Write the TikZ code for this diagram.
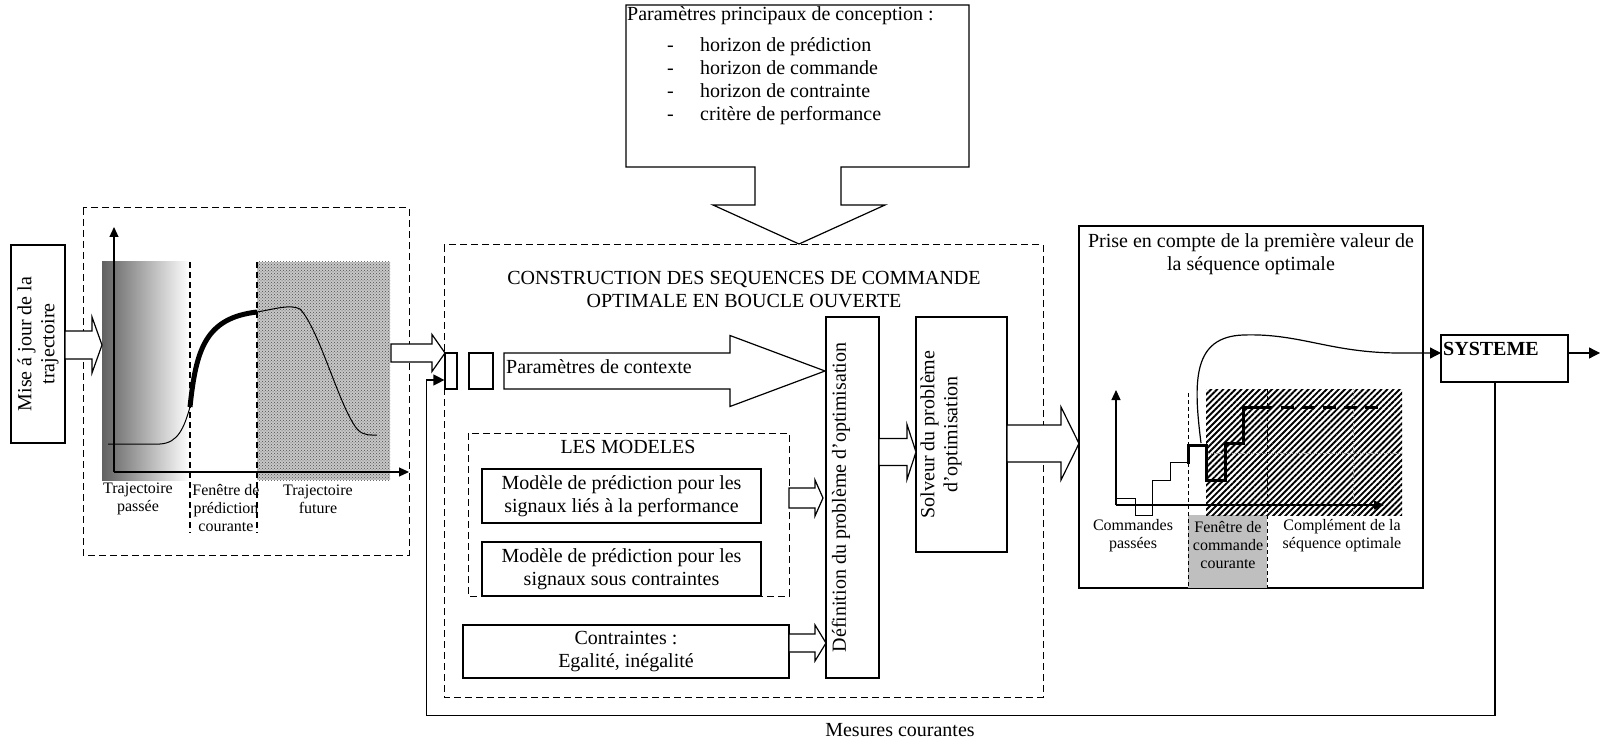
\documentclass[tikz,border=0pt]{standalone}
\usepackage{fontspec}
\setmainfont{Liberation Serif}
\usetikzlibrary{arrows.meta,patterns,patterns.meta}
\newcommand\blockarrow[6]{%
  \draw[blk] (#1,#4-#5) -- (#2,#4-#5) -- (#2,#4-#6) -- (#3,#4) -- (#2,#4+#6) -- (#2,#4+#5) -- (#1,#4+#5) -- cycle;}
\begin{document}
\begin{tikzpicture}[x=1pt,y=-1pt,
    every node/.style={font=\fontsize{20}{23}\selectfont},
    small/.style={font=\fontsize{16}{18}\selectfont, align=center},
    box/.style={draw, line width=1.2pt, fill=white, inner sep=0pt},
    dbox/.style={draw, line width=1pt, dash pattern=on 7pt off 4pt},
    blk/.style={draw, line width=1.2pt, fill=white, line join=miter},
    conn/.style={line width=1.2pt, -{Triangle[length=11pt,width=11pt]}},
    axis/.style={line width=1.2pt, -{Triangle[length=10pt,width=9pt]}}]
  \useasboundingbox (0,0) rectangle (1600,743);
  % trajectoire
  \draw[dbox] (83,208) rectangle (409,555);
  \shade[left color=black!62, right color=white] (102,262) rectangle (190,480);
  \fill[black!22] (257,262) rectangle (390,480);
  \fill[pattern=crosshatch dots, pattern color=black!70] (257,262) rectangle (390,480);
  \draw[line width=1.4pt, dash pattern=on 6pt off 4pt]
    (190,262) -- (190,533)
    (257,262) -- (257,533);
  \coordinate (lo) at (114,472);
  \draw[axis] (lo) -- (114,227);
  \draw[axis] (lo) -- (409,472);
  \draw[line width=1pt] (108,444) -- (160,444) .. controls (178,443) and (184,428) .. (190,407);
  \draw[line width=5pt] (190,407) .. controls (196,350) and (205,318) .. (257,312);
  \draw[line width=1pt] (257,312) .. controls (275,309) and (290,304) .. (300,309)
    .. controls (320,330) and (340,410) .. (358,430) .. controls (364,436) and (372,435) .. (377,435);
  \node[small] (past) at (138,499) {Trajectoire\\passée};
  \node[small] (predwin) at (226,508) {Fenêtre de\\prédiction\\courante};
  \node[small] (future) at (318,499) {Trajectoire\\future};
  \node[box, rotate=90, minimum width=198pt, minimum height=54pt, align=center] (maj) at (38,344)
    {Mise á jour de la\\trajectoire};
  \blockarrow{65}{92}{102}{345}{14}{28}
  % construction
  \draw[dbox] (444,245) rectangle (1043,697);
  \node[align=center] (title) at (744,290)
    {CONSTRUCTION DES SEQUENCES DE COMMANDE\\OPTIMALE EN BOUCLE OUVERTE};
  \blockarrow{391}{432}{445}{353}{9}{18.5}
  \node[box, minimum width=12pt, minimum height=36pt] (ctxa) at (451,371) {};
  \node[box, minimum width=24pt, minimum height=36pt] (ctxb) at (481,371) {};
  \blockarrow{504}{730}{825}{371}{18}{35.5}
  \node[anchor=base west, inner sep=0pt] (ctxtxt) at (506,373) {Paramètres de contexte};
  \draw[dbox] (468,433) rectangle (789,596);
  \node (modeles) at (628,447) {LES MODELES};
  \node[box, minimum width=279pt, minimum height=54pt, align=center] (mperf) at (621.5,496)
    {Modèle de prédiction pour les\\signaux liés à la performance};
  \node[box, minimum width=279pt, minimum height=54pt, align=center] (mcont) at (621.5,569)
    {Modèle de prédiction pour les\\signaux sous contraintes};
  \node[box, minimum width=326pt, minimum height=53pt, align=center] (contr) at (626,651.5)
    {Contraintes :\\Egalité, inégalité};
  \node[box, rotate=90, minimum width=361pt, minimum height=53pt] (def) at (852.5,497.5) {};
  \node[rotate=90] (deftxt) at (841,497.5) {Définition du problème d’optimisation};
  \node[box, rotate=90, minimum width=235pt, minimum height=91pt] (solv) at (961.5,434.5) {};
  \node[rotate=90, align=center] (solvtxt) at (941,434.5) {Solveur du problème\\d’optimisation};
  \blockarrow{789}{815}{823}{498}{10}{18}
  \blockarrow{789}{815}{826}{643}{9}{18}
  \blockarrow{879}{907}{916}{452}{13.5}{27.5}
  % parametres de conception
  \draw[blk] (626,5) -- (969,5) -- (969,167) -- (841,167) -- (841,205) -- (885,205) -- (799,244)
    -- (713,205) -- (755,205) -- (755,167) -- (626,167) -- cycle;
  \node[anchor=base west, inner sep=0pt] (conc) at (627,21) {Paramètres principaux de conception :};
  \foreach \t [count=\i] in {horizon de prédiction, horizon de commande, horizon de contrainte, critère de performance} {
    \node[anchor=base west, inner sep=0pt] (dash\i) at (667,28+23.2*\i) {-};
    \node[anchor=base west, inner sep=0pt] (item\i) at (700,28+23.2*\i) {\t};
  }
  % premiere valeur
  \node[box, minimum width=344pt, minimum height=362pt] (prise) at (1251,407) {};
  \blockarrow{1007}{1061}{1079}{443.5}{18.5}{36.5}
  \node[align=center] (prisetxt) at (1251,254) {Prise en compte de la première valeur de\\la séquence optimale};
  \fill[black!25] (1188,515) rectangle (1267,588);
  \fill[pattern={Lines[angle=45,distance=4.3pt,line width=1.9pt]}] (1206,389) rectangle (1402,515);
  \draw[black!35, densely dotted, line width=0.6pt]
    (1206,453) -- (1402,453)
    (1353,389) -- (1353,515);
  \draw[line width=0.8pt, dash pattern=on 4pt off 3pt]
    (1188,393) -- (1188,588)
    (1267,389) -- (1267,588);
  \coordinate (ro) at (1116,505);
  \draw[axis] (ro) -- (1116,390);
  \draw[axis] (ro) -- (1384,505);
  \draw[line width=1pt] (1116,498) -- (1135,498) -- (1135,515) -- (1152,515) -- (1152,480)
    -- (1170,480) -- (1170,462) -- (1188,462);
  \draw[line width=3pt, line join=miter] (1188,463.5) -- (1188,445) -- (1206,445) -- (1206,480)
    -- (1225,480) -- (1225,443) -- (1243,443) -- (1243,407) -- (1272,407);
  \draw[line width=3pt, dash pattern=on 13pt off 8pt] (1281,407) -- (1378,407);
  \node[small] (cpast) at (1133,536) {Commandes\\passées};
  \node[small] (cwin) at (1228,545) {Fenêtre de\\commande\\courante};
  \node[small] (ccompl) at (1342,536) {Complément de la\\séquence optimale};
  % systeme
  \node[box, minimum width=127pt, minimum height=47pt] (sys) at (1504.5,358.5) {};
  \node[anchor=base west, inner sep=0pt, font=\fontsize{20}{23}\selectfont\bfseries] (systxt) at (1443,355) {SYSTEME};
  \coordinate (steptop) at (1201,443);
  \coordinate (sysin) at (1441,353);
  \coordinate (sysout) at (1568,353);
  \coordinate (exit) at (1600,353);
  \draw[conn] (steptop) .. controls (1193,380) and (1193,337) .. (1243,335)
    .. controls (1300,333) and (1330,353) .. (1400,353) -- (sysin);
  \draw[conn] (sysout) -- (exit);
  \draw[conn] ([xshift=-9.5pt]sys.south) -- ++(0,333) -| ([xshift=-18pt,yshift=-9pt]ctxa.west)
    -- ([yshift=-9pt]ctxa.west);
  \node (mesures) at (900,730) {Mesures courantes};
\end{tikzpicture}
\end{document}
